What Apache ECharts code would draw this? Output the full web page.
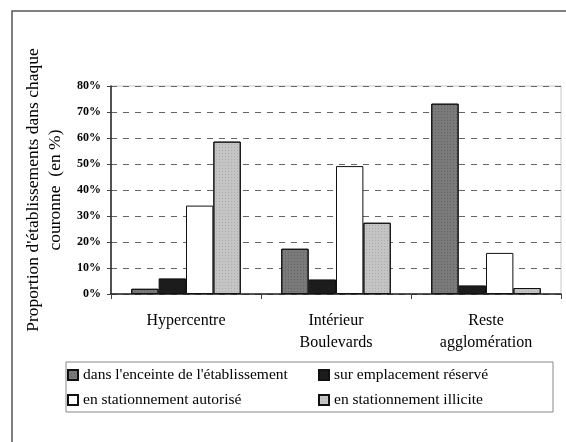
<!DOCTYPE html>
<html>
<head>
    <meta charset="utf-8">
    <script src="https://cdn.jsdelivr.net/npm/echarts@6/dist/echarts.min.js"></script>
</head>
<body style="margin:0;">
    <div id="main" style="width:566px; height:442px;"></div>
	<script type="text/javascript">
        var categories = ['Hypercentre', 'Intérieur\nBoulevards', 'Reste\nagglomération'];
        var seriesNames = ["dans l'enceinte de l'établissement", 'sur emplacement réservé', 'en stationnement autorisé', 'en stationnement illicite'];
        var enceinte = [2, 17.4, 73.2];
        var reserve = [6, 5.6, 3.3];
        var autorise = [34, 49.2, 15.8];
        var illicite = [58.6, 27.4, 2.3];
        var colors = ['#7a7a7a', '#1c1c1c', '#ffffff', '#c4c4c4'];

        var myChart = echarts.init(document.getElementById('main'));
        var font = 'Liberation Serif';
        var allData = [enceinte, reserve, autorise, illicite];
        var decals = [
            { symbol: 'rect', symbolSize: 1, color: 'rgba(0,0,0,0.18)', dashArrayX: [1, 2], dashArrayY: [1, 2] },
            null,
            null,
            { symbol: 'rect', symbolSize: 1, color: 'rgba(0,0,0,0.12)', dashArrayX: [1, 2], dashArrayY: [1, 2] }
        ];
        var series = [];
        for (var i = 0; i < 4; i++) {
            var st = { color: colors[i], borderColor: '#111', borderWidth: 1 };
            if (decals[i]) st.decal = decals[i];
            series.push({
                name: seriesNames[i],
                type: 'bar',
                data: allData[i],
                barGap: '0%',
                barCategoryGap: '27%',
                itemStyle: st
            });
        }
        option = {
            backgroundColor: '#fff',
            animation: false,
            textStyle: { fontFamily: font },
            grid: { left: 111, right: 5, top: 86, bottom: 148, outerBoundsMode: 'none', show: true, borderColor: '#c8c8c8', borderWidth: 1 },
            xAxis: {
                type: 'category',
                data: categories,
                axisLine: { lineStyle: { color: '#222', width: 1.5 } },
                axisTick: { show: true, length: 5, lineStyle: { color: '#444' } },
                axisLabel: { color: '#000', fontSize: 16, fontFamily: font, margin: 16, lineHeight: 22 }
            },
            yAxis: {
                type: 'value',
                min: 0, max: 80, interval: 10,
                name: "Proportion d'établissements dans chaque\ncouronne  (en %)",
                nameLocation: 'middle',
                nameRotate: 90,
                nameGap: 60,
                nameTextStyle: { color: '#000', fontSize: 17.5, fontFamily: font, lineHeight: 22, align: 'center', verticalAlign: 'middle' },
                axisLine: { show: true, lineStyle: { color: '#222', width: 1.5 } },
                axisTick: { show: true, length: 4, lineStyle: { color: '#444' } },
                axisLabel: { formatter: '{value}%', color: '#000', fontSize: 12, fontWeight: 'bold', fontFamily: font, margin: 10 },
                splitLine: { lineStyle: { color: '#666', type: [6, 6] } }
            },
            legend: [{
                data: [seriesNames[0], seriesNames[2]],
                orient: 'vertical',
                left: 62, top: 362,
                itemWidth: 10, itemHeight: 10, itemGap: 9, icon: 'rect',
                textStyle: { color: '#000', fontSize: 15.5, fontFamily: font }
            }, {
                data: [seriesNames[1], seriesNames[3]],
                orient: 'vertical',
                left: 313, top: 362,
                itemWidth: 10, itemHeight: 10, itemGap: 9, icon: 'rect',
                textStyle: { color: '#000', fontSize: 15.5, fontFamily: font }
            }],
            graphic: [{
                type: 'rect',
                shape: { x: 12, y: 11, width: 600, height: 500 },
                style: { fill: 'none', stroke: '#555', lineWidth: 1.5 }
            }, {
                type: 'rect',
                shape: { x: 66, y: 362, width: 487, height: 50 },
                style: { fill: 'none', stroke: '#888', lineWidth: 1 }
            }],
            series: series
        };
        myChart.setOption(option);
    </script>
</body>
</html>
